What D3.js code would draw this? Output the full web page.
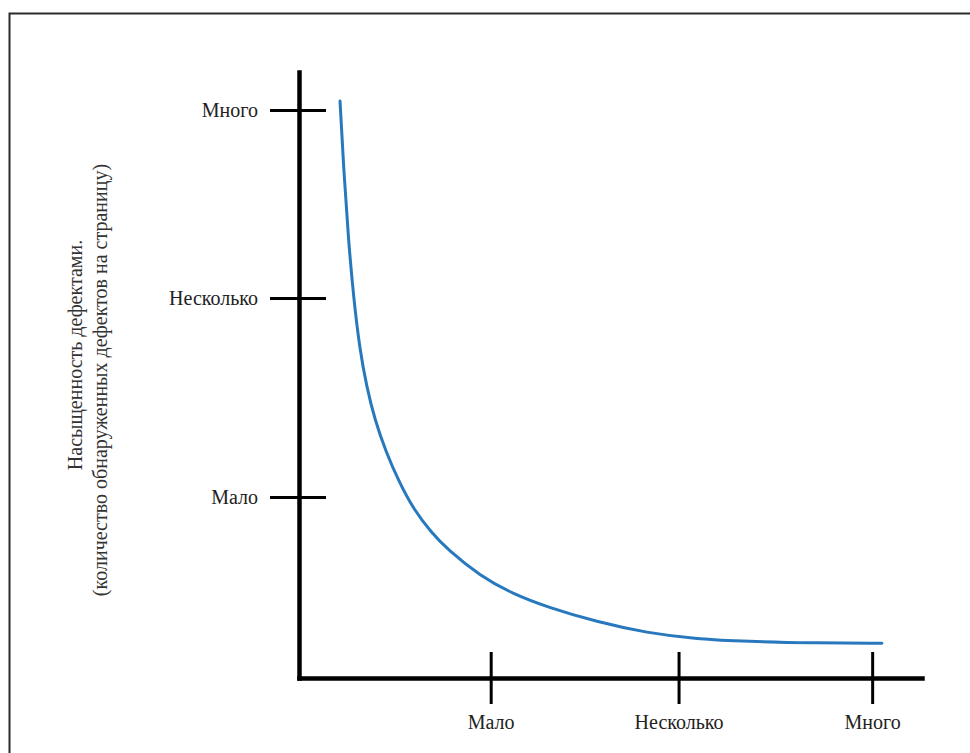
<!DOCTYPE html>
<html>
<head>
<meta charset="utf-8">
<script src="https://cdn.jsdelivr.net/npm/d3@7"></script>
<style>
  html, body { margin: 0; padding: 0; background: #fff; }
  svg { display: block; }
  svg text { font-family: "Liberation Serif", "Times New Roman", "DejaVu Serif", "Noto Serif", serif !important; }
</style>
</head>
<body>
<div id="chart"></div>
<script>
// curve (axis units: 1 = Мало, 2 = Несколько, 3 = Много)
const curveX = [0.214, 0.235, 0.258, 0.285, 0.316, 0.352, 0.396, 0.454, 0.522, 0.600, 0.689,
                0.772, 0.944, 1.116, 1.294, 1.555, 1.815, 2.076, 2.337, 2.681, 3.041];
const curveY = [3.047, 2.656, 2.313, 2.007, 1.743, 1.542, 1.362, 1.193, 1.035, 0.887, 0.771,
                0.681, 0.539, 0.444, 0.375, 0.296, 0.238, 0.206, 0.193, 0.185, 0.183];

const xTickValues = [1.0, 1.98, 2.99];
const xTickLabels = ["Мало", "Несколько", "Много"];
const yTickValues = [0.956, 2.007, 3.0];
const yTickLabels = ["Мало", "Несколько", "Много"];

const yTitle = ["Насыщенность дефектами.", "(количество обнаруженных дефектов на страницу)"];

const width = 970, height = 753;
const origin = {x: 299, y: 678};

const svg = d3.select("#chart").append("svg")
    .attr("width", width)
    .attr("height", height);

// frame (only left and top edges are inside the picture)
svg.append("rect")
    .attr("x", 9.5).attr("y", 13.5)
    .attr("width", 980).attr("height", 760)
    .attr("fill", "none")
    .attr("stroke", "#2a2a2a")
    .attr("stroke-width", 2);

const x = d3.scaleLinear().domain([0, 3.25]).range([origin.x, 922]);
const y = d3.scaleLinear().domain([0, 3.2]).range([origin.y, 72]);

// Y axis
const gy = svg.append("g")
    .attr("transform", `translate(${origin.x},0)`)
    .call(d3.axisLeft(y)
        .tickValues(yTickValues)
        .tickFormat((d, i) => yTickLabels[i])
        .tickSizeOuter(0));

gy.attr("font-family", null);
gy.select(".domain")
    .attr("stroke", "#000")
    .attr("stroke-width", 4.5)
    .attr("stroke-linecap", "square");
gy.selectAll(".tick line")
    .attr("x1", 27).attr("x2", -29)
    .attr("stroke", "#000")
    .attr("stroke-width", 3);
gy.selectAll(".tick text")
    .attr("x", -41)
    .attr("dy", "0.35em")
    .attr("fill", "#222")
    .style("font-size", "20px");

// X axis
const gx = svg.append("g")
    .attr("transform", `translate(0,${origin.y})`)
    .call(d3.axisBottom(x)
        .tickValues(xTickValues)
        .tickFormat((d, i) => xTickLabels[i])
        .tickSizeOuter(0));

gx.attr("font-family", null);
gx.select(".domain")
    .attr("stroke", "#000")
    .attr("stroke-width", 4.5)
    .attr("stroke-linecap", "square");
gx.selectAll(".tick line")
    .attr("y1", -26).attr("y2", 26)
    .attr("stroke", "#000")
    .attr("stroke-width", 3);
gx.selectAll(".tick text")
    .attr("y", 51)
    .attr("dy", 0)
    .attr("fill", "#222")
    .style("font-size", "20px");

// Y title, two rotated lines
svg.append("text")
    .attr("transform", "translate(82,355) rotate(-90)")
    .attr("text-anchor", "middle")
    .attr("fill", "#333")
    .style("font-size", "20px")
    .text(yTitle[0]);

svg.append("text")
    .attr("transform", "translate(107,380) rotate(-90)")
    .attr("text-anchor", "middle")
    .attr("fill", "#333")
    .style("font-size", "20px")
    .text(yTitle[1]);

// the curve
const pts = curveX.map((v, i) => [v, curveY[i]]);
svg.append("path")
    .datum(pts)
    .attr("fill", "none")
    .attr("stroke", "#2878be")
    .attr("stroke-width", 3)
    .attr("stroke-linecap", "round")
    .attr("d", d3.line()
        .x(d => x(d[0]))
        .y(d => y(d[1]))
        .curve(d3.curveBasis));
</script>
</body>
</html>
